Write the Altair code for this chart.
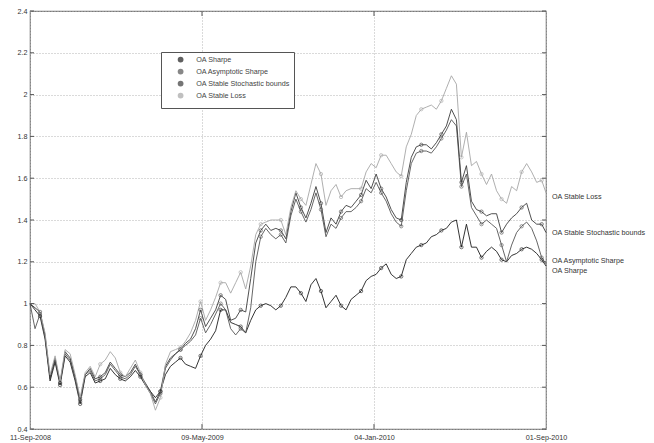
import altair as alt
import pandas as pd

# weekly samples (plus the final day)
dates = list(pd.date_range("2008-09-11", periods=103, freq="7D").strftime("%Y-%m-%d")) + ["2010-09-01"]

names = ["OA Sharpe", "OA Asymptotic Sharpe", "OA Stable Stochastic bounds", "OA Stable Loss"]
colors = ["#1e1e1e", "#555555", "#3c3c3c", "#a6a6a6"]

sharpe = [1.00, 0.97, 0.94, 0.83, 0.63, 0.72, 0.61, 0.75, 0.72, 0.63,
          0.52, 0.65, 0.67, 0.62, 0.63, 0.64, 0.69, 0.66, 0.64, 0.63,
          0.65, 0.68, 0.65, 0.61, 0.58, 0.55, 0.58, 0.66, 0.70, 0.72,
          0.74, 0.71, 0.70, 0.69, 0.75, 0.80, 0.83, 0.87, 0.97, 0.97,
          0.91, 0.90, 0.89, 0.86, 0.92, 0.97, 0.99, 1.00, 0.99, 0.97,
          0.99, 1.03, 1.08, 1.08, 1.05, 1.01, 1.09, 1.12, 1.06, 0.98,
          1.01, 1.04, 0.99, 0.97, 1.02, 1.04, 1.06, 1.11, 1.13, 1.14,
          1.17, 1.19, 1.14, 1.12, 1.13, 1.21, 1.24, 1.27, 1.28, 1.29,
          1.32, 1.33, 1.35, 1.36, 1.39, 1.40, 1.27, 1.38, 1.27, 1.27,
          1.22, 1.25, 1.27, 1.25, 1.21, 1.20, 1.23, 1.24, 1.26, 1.27,
          1.26, 1.24, 1.21, 1.18]
asym = [1.00, 0.88, 0.95, 0.84, 0.65, 0.74, 0.62, 0.76, 0.73, 0.64,
        0.53, 0.66, 0.68, 0.63, 0.64, 0.66, 0.71, 0.68, 0.65, 0.64,
        0.66, 0.70, 0.66, 0.61, 0.57, 0.52, 0.57, 0.69, 0.73, 0.76,
        0.78, 0.80, 0.82, 0.85, 0.93, 0.86, 0.90, 0.95, 1.00, 0.97,
        0.88, 0.85, 0.88, 0.86, 0.98, 1.20, 1.32, 1.36, 1.33, 1.31,
        1.33, 1.29, 1.42, 1.50, 1.44, 1.39, 1.45, 1.53, 1.45, 1.32,
        1.38, 1.36, 1.41, 1.44, 1.44, 1.46, 1.49, 1.55, 1.53, 1.58,
        1.53, 1.49, 1.43, 1.39, 1.37, 1.54, 1.67, 1.72, 1.73, 1.73,
        1.72, 1.75, 1.79, 1.83, 1.88, 1.85, 1.56, 1.62, 1.46, 1.42,
        1.38, 1.40, 1.38, 1.36, 1.28, 1.20, 1.28, 1.34, 1.37, 1.39,
        1.36, 1.30, 1.22, 1.19]
stoch = [1.00, 0.98, 0.96, 0.85, 0.64, 0.73, 0.62, 0.77, 0.74, 0.65,
         0.54, 0.66, 0.69, 0.64, 0.65, 0.67, 0.72, 0.69, 0.66, 0.65,
         0.67, 0.71, 0.66, 0.62, 0.58, 0.53, 0.58, 0.70, 0.74, 0.76,
         0.78, 0.81, 0.83, 0.88, 0.97, 0.89, 0.93, 0.97, 1.04, 1.02,
         0.92, 0.93, 0.97, 0.96, 1.12, 1.29, 1.35, 1.38, 1.35, 1.36,
         1.35, 1.31, 1.44, 1.53, 1.46, 1.41, 1.48, 1.56, 1.48, 1.34,
         1.41, 1.38, 1.44, 1.47, 1.46, 1.49, 1.52, 1.59, 1.55, 1.62,
         1.55, 1.51, 1.45, 1.41, 1.40, 1.58, 1.70, 1.75, 1.76, 1.76,
         1.74, 1.77, 1.81, 1.85, 1.93, 1.88, 1.58, 1.66, 1.49, 1.45,
         1.44, 1.42, 1.43, 1.43, 1.34, 1.38, 1.41, 1.43, 1.46, 1.48,
         1.40, 1.38, 1.38, 1.34]
loss = [1.00, 1.00, 0.96, 0.86, 0.66, 0.75, 0.63, 0.78, 0.76, 0.66,
        0.55, 0.67, 0.70, 0.65, 0.71, 0.73, 0.77, 0.74, 0.67, 0.65,
        0.69, 0.73, 0.67, 0.61, 0.57, 0.49, 0.55, 0.71, 0.77, 0.78,
        0.79, 0.82, 0.86, 0.92, 1.01, 0.92, 0.97, 1.03, 1.10, 1.10,
        1.05, 1.10, 1.15, 1.07, 1.18, 1.33, 1.38, 1.39, 1.40, 1.40,
        1.40, 1.33, 1.46, 1.54, 1.50, 1.47, 1.57, 1.67, 1.62, 1.47,
        1.54, 1.57, 1.51, 1.54, 1.55, 1.55, 1.55, 1.63, 1.67, 1.65,
        1.71, 1.71, 1.67, 1.63, 1.61, 1.75, 1.81, 1.90, 1.93, 1.94,
        1.95, 1.93, 1.97, 2.03, 2.09, 2.05, 1.70, 1.82, 1.66, 1.68,
        1.62, 1.57, 1.62, 1.54, 1.50, 1.48, 1.56, 1.54, 1.63, 1.67,
        1.63, 1.58, 1.59, 1.53]

x_tick_dates = ["2008-09-11", "2009-05-09", "2010-01-04", "2010-09-01"]
y_ticks = [0.4, 0.6, 0.8, 1.0, 1.2, 1.4, 1.6, 1.8, 2.0, 2.2, 2.4]
end_label_y = [1.158, 1.205, 1.336, 1.512]

FONT = "Liberation Sans"
FS = 7.2

rows = []
for name, vals in zip(names, [sharpe, asym, stoch, loss]):
    for k, (d, v) in enumerate(zip(dates, vals)):
        rows.append({"date": d, "series": name, "value": v, "k": k})
df = pd.DataFrame(rows)

def dt(s):
    y, m, d = s.split("-")
    return alt.DateTime(year=int(y), month=int(m), date=int(d), utc=True)

xscale = alt.Scale(type="utc", domain=[dt(x_tick_dates[0]), dt(x_tick_dates[-1])])
yscale = alt.Scale(domain=[0.4, 2.4], nice=False, zero=False)

x_axis = alt.Axis(values=[dt(s) for s in x_tick_dates], format="%d-%b-%Y", title=None,
                  grid=True, gridDash=[1, 2], gridColor="#b5b5b5", gridWidth=1,
                  tickSize=0, domain=False, labelPadding=4, labelFontSize=FS,
                  labelColor="#333333", labelFont=FONT, labelFlush=False, labelOverlap=False)
y_axis = alt.Axis(values=y_ticks, format=".1~f", title=None,
                  grid=True, gridDash=[1, 2], gridColor="#b5b5b5", gridWidth=1,
                  tickSize=0, domain=False, labelPadding=3, labelFontSize=FS,
                  labelColor="#333333", labelFont=FONT)

legend = alt.Legend(title=None, orient="none", legendX=131, legendY=41,
                    direction="vertical", symbolType="circle",
                    symbolSize=8, symbolStrokeWidth=3,
                    labelFontSize=FS, labelFont=FONT, labelColor="#444444",
                    strokeColor="#555555", fillColor="white",
                    padding=4, symbolOffset=12, labelOffset=12,
                    rowPadding=-5.3)
color = alt.Color("series:N", sort=names,
                  scale=alt.Scale(domain=names, range=colors), legend=legend)

lines = alt.Chart(df).mark_line(strokeWidth=0.9).encode(
    x=alt.X("date:T", scale=xscale, axis=x_axis),
    y=alt.Y("value:Q", scale=yscale, axis=y_axis),
    color=color,
)

markers = alt.Chart(df).transform_filter("datum.k % 4 == 2").mark_point(
    shape="circle", filled=False, size=11, strokeWidth=0.9).encode(
    x=alt.X("date:T", scale=xscale, axis=x_axis),
    y=alt.Y("value:Q", scale=yscale, axis=y_axis),
    color=color,
)

lab_df = pd.DataFrame({"series": names, "date": [dates[-1]] * 4, "ly": end_label_y})
labels = alt.Chart(lab_df).mark_text(align="left", baseline="middle", dx=6,
                                     fontSize=FS, font=FONT, color="#333333").encode(
    x=alt.X("date:T", scale=xscale, axis=x_axis),
    y=alt.Y("ly:Q", scale=yscale, axis=y_axis),
    text="series:N",
)

yt_df = pd.DataFrame({"v": y_ticks})
xt_df = pd.DataFrame({"d": x_tick_dates[1:3]})
tick_style = dict(color="#555555", strokeWidth=1)
ltick = alt.Chart(yt_df).mark_rule(**tick_style).encode(
    y=alt.Y("v:Q", scale=yscale, axis=y_axis), x=alt.value(0), x2=alt.value(4))
rtick = alt.Chart(yt_df).mark_rule(**tick_style).encode(
    y=alt.Y("v:Q", scale=yscale, axis=y_axis), x=alt.value(512), x2=alt.value(516))
btick = alt.Chart(xt_df).mark_rule(**tick_style).encode(
    x=alt.X("d:T", scale=xscale, axis=x_axis), y=alt.value(418), y2=alt.value(413))
ttick = alt.Chart(xt_df).mark_rule(**tick_style).encode(
    x=alt.X("d:T", scale=xscale, axis=x_axis), y=alt.value(0), y2=alt.value(5))

chart = alt.layer(lines, markers, labels, ltick, rtick, btick, ttick).properties(
    width=516, height=418,
    autosize=alt.AutoSizeParams(type="none"),
    padding={"left": 30, "top": 11, "right": 108, "bottom": 14},
    background="white",
).configure_view(stroke="#7a7a7a", strokeWidth=1.2)

chart.save("out.html", embed_options={"renderer": "svg", "actions": False})
